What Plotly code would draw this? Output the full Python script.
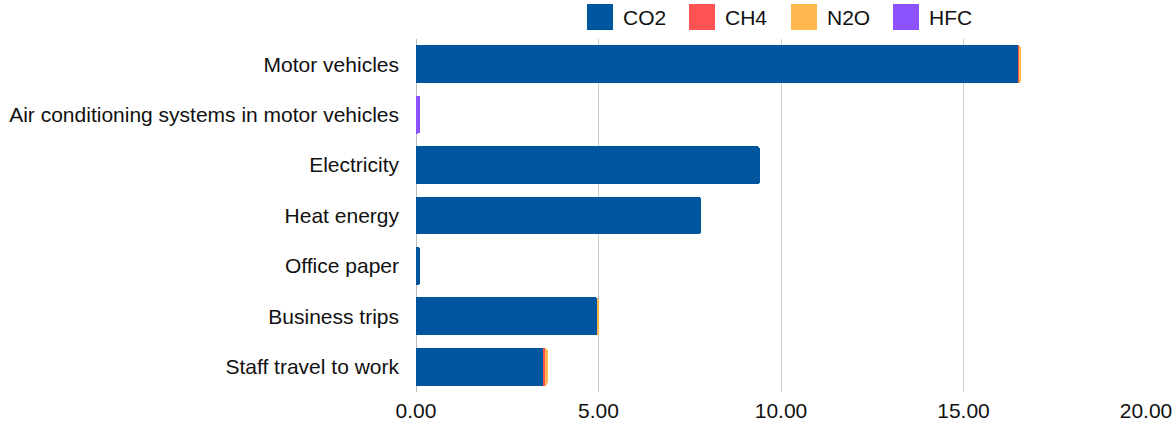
import plotly.graph_objects as go

categories = ["Motor vehicles", "Air conditioning systems in motor vehicles", "Electricity",
              "Heat energy", "Office paper", "Business trips", "Staff travel to work"]
co2 = [16.52, 0, 9.42, 7.81, 0.12, 4.98, 3.50]
ch4 = [0.001, 0, 0, 0, 0, 0.002, 0.04]
n2o = [0.05, 0, 0, 0, 0, 0.03, 0.07]
hfc = [0, 0.12, 0, 0, 0, 0, 0]
x_ticks = [0, 5, 10, 15, 20]
x_ticklabels = ["0.00", "5.00", "10.00", "15.00", "20.00"]

series_names = ["CO2", "CH4", "N2O", "HFC"]
series_values = [co2, ch4, n2o, hfc]
series_colors = ["#00559f", "#ff5252", "#ffb74d", "#8c52ff"]

W, H = 1173, 421
ML, MR, MT, MB = 416, 27, 39, 29
PW, PH = W - ML - MR, H - MT - MB

fig = go.Figure()
for name, vals, col in zip(series_names, series_values, series_colors):
    fig.add_trace(go.Bar(y=categories, x=vals, name=name, orientation="h",
                         showlegend=False,
                         marker=dict(color=col, line=dict(width=0))))

# custom legend (square swatches) placed in paper coordinates
legend_left_px = [587, 689, 791, 893]
sw = 26
for name, col, lx in zip(series_names, series_colors, legend_left_px):
    x0 = (lx - ML) / PW
    x1 = (lx + sw - ML) / PW
    y0 = (H - MB - 30) / PH
    y1 = (H - MB - 4) / PH
    fig.add_shape(type="rect", xref="paper", yref="paper", x0=x0, x1=x1, y0=y0, y1=y1,
                  fillcolor=col, line=dict(width=0))
    fig.add_annotation(xref="paper", yref="paper", x=(lx + sw + 8 - ML) / PW,
                       y=(H - MB - 17) / PH, text=name, showarrow=False,
                       xanchor="left", yanchor="middle",
                       font=dict(size=21, color="#111"))

fig.update_layout(
    width=W, height=H,
    barmode="stack", bargap=0.25, barcornerradius=3,
    margin=dict(l=ML, r=MR, t=MT, b=MB, autoexpand=False),
    paper_bgcolor="white", plot_bgcolor="white",
    font=dict(family="Liberation Sans, Arial", size=21, color="#111"),
    showlegend=False,
)
fig.update_xaxes(range=[0, 20], tickvals=x_ticks, ticktext=x_ticklabels,
                 showgrid=True, gridcolor="#cccccc", gridwidth=1,
                 zeroline=True, zerolinecolor="#bbbbbb", zerolinewidth=1,
                 showline=False, ticks="", ticklabelstandoff=4, automargin=False)
fig.update_yaxes(autorange="reversed", showgrid=False, ticks="",
                 ticklabelstandoff=16, showline=False, automargin=False)

fig.write_html("out.html")
